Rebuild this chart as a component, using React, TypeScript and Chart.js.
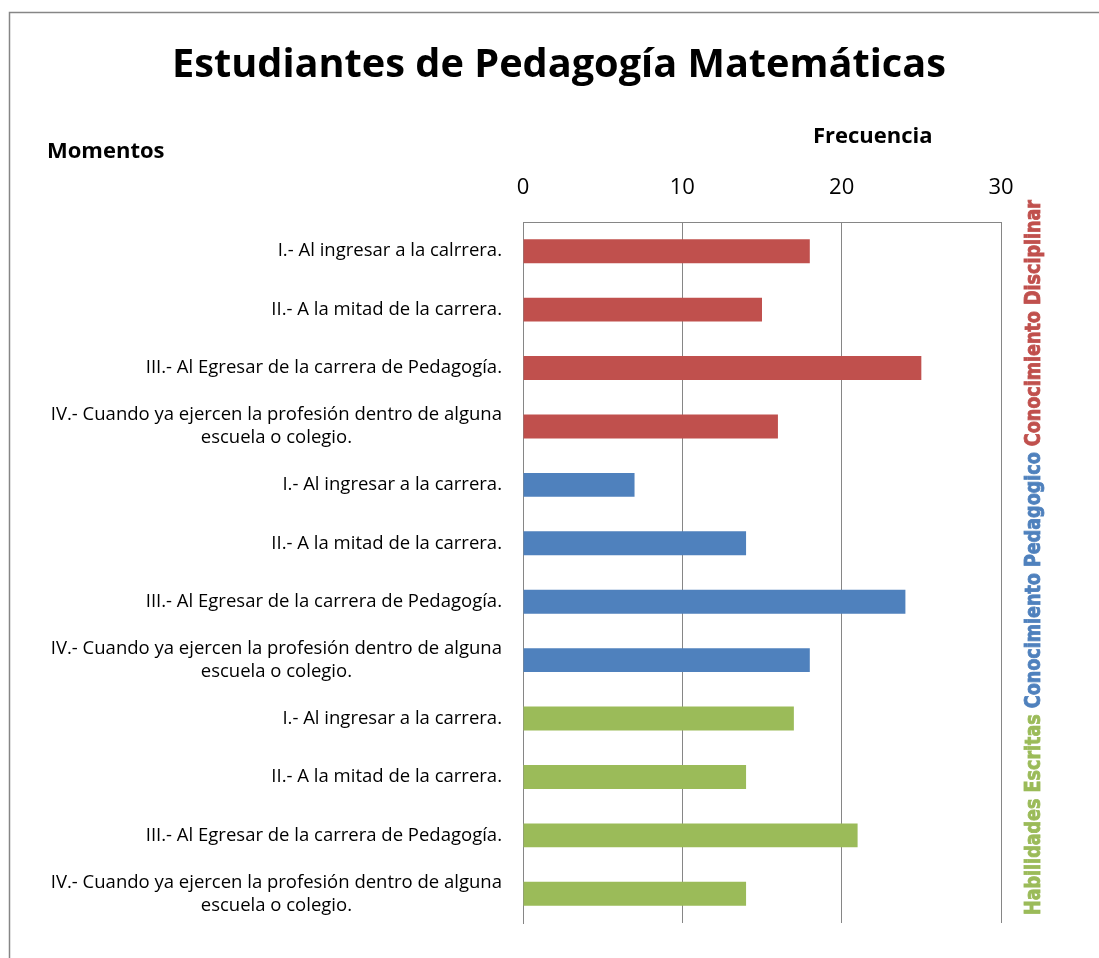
import React, { useEffect, useRef } from 'react';
import { Chart, registerables } from 'chart.js';

Chart.register(...registerables);

const categories: string[][] = [
  ['I.- Al ingresar a la calrrera.'],
  ['II.- A la mitad de la carrera.'],
  ['III.- Al Egresar de la carrera de Pedagogía.'],
  ['IV.- Cuando ya ejercen la profesión dentro de alguna', 'escuela o colegio.'],
  ['I.- Al ingresar a la carrera.'],
  ['II.- A la mitad de la carrera.'],
  ['III.- Al Egresar de la carrera de Pedagogía.'],
  ['IV.- Cuando ya ejercen la profesión dentro de alguna', 'escuela o colegio.'],
  ['I.- Al ingresar a la carrera.'],
  ['II.- A la mitad de la carrera.'],
  ['III.- Al Egresar de la carrera de Pedagogía.'],
  ['IV.- Cuando ya ejercen la profesión dentro de alguna', 'escuela o colegio.'],
];
const values = [18, 15, 25, 16, 7, 14, 24, 18, 17, 14, 21, 14];
const groupOf = [0, 0, 0, 0, 1, 1, 1, 1, 2, 2, 2, 2];
const groupNames = ['Conocimiento Disciplinar', 'Conocimiento Pedagogico', 'Habilidades Escritas'];
const groupColors = ['#C0504D', '#4F81BD', '#9BBB59'];
const xMin = 0;
const xMax = 30;
const xStep = 10;
const title = 'Estudiantes de Pedagogía Matemáticas';
const yTitle = 'Momentos';
const xTitle = 'Frecuencia';

const FONT = '"Open Sans", "Noto Sans", sans-serif';

const decorPlugin = {
  id: 'decor',
  afterDraw(chart: any) {
    const ctx: CanvasRenderingContext2D = chart.ctx;
    const area = chart.chartArea;
    const yScale = chart.scales.y;
    ctx.save();
    // outer border
    ctx.strokeStyle = '#868686';
    ctx.lineWidth = 1.5;
    ctx.beginPath();
    ctx.moveTo(9.5, chart.height);
    ctx.lineTo(9.5, 12.5);
    ctx.lineTo(chart.width, 12.5);
    ctx.stroke();

    // title
    ctx.fillStyle = '#000';
    ctx.textBaseline = 'middle';
    ctx.textAlign = 'center';
    ctx.font = `bold 40px ${FONT}`;
    const tw = ctx.measureText(title).width;
    const size = 40 * 774 / tw;
    ctx.font = `bold ${size}px ${FONT}`;
    ctx.fillText(title, 559, 66);

    // axis titles
    ctx.font = `bold 22px ${FONT}`;
    ctx.textAlign = 'left';
    ctx.fillText(yTitle, 47, 152);
    ctx.fillText(xTitle, 813, 137);

    // category labels
    ctx.font = `18.5px ${FONT}`;
    const lh = 23;
    categories.forEach((lines, i) => {
      const yc = yScale.getPixelForTick(i);
      const widths = lines.map((l) => ctx.measureText(l).width);
      const widest = Math.max(...widths);
      const cx = 502 - widest / 2;
      ctx.textAlign = 'center';
      lines.forEach((l, k) => {
        const y = yc + (k - (lines.length - 1) / 2) * lh;
        ctx.fillText(l, cx, y);
      });
    });

    // rotated group labels
    ctx.font = `bold 21px "DejaVu Sans Condensed", "DejaVu Sans", sans-serif`;
    const order = [2, 1, 0];
    const gap = 6;
    const natural = order.map((g) => ctx.measureText(groupNames[g]).width);
    const totalTarget = 715 - gap * 2;
    const sc = totalTarget / natural.reduce((a, b) => a + b, 0);
    let pos = area.bottom - 8;
    ctx.textAlign = 'left';
    order.forEach((g, k) => {
      ctx.save();
      ctx.translate(1035, pos);
      ctx.rotate(-Math.PI / 2);
      ctx.scale(sc, 1);
      ctx.fillStyle = groupColors[g];
      ctx.strokeStyle = groupColors[g];
      ctx.lineWidth = 0.8;
      ctx.fillText(groupNames[g], 0, 0);
      ctx.strokeText(groupNames[g], 0, 0);
      ctx.restore();
      pos -= natural[k] * sc + gap;
    });
    ctx.restore();
  },
};

export default function App() {
  const ref = useRef<HTMLCanvasElement>(null);
  useEffect(() => {
    if (!ref.current) return;
    const chart = new Chart(ref.current, {
      type: 'bar',
      data: {
        labels: categories.map((c) => c.join(' ')),
        datasets: [
          {
            data: values,
            backgroundColor: values.map((_, i) => groupColors[groupOf[i]]),
            barPercentage: 0.41,
            categoryPercentage: 1,
          },
        ],
      },
      options: {
        indexAxis: 'y',
        animation: false,
        responsive: false,
        events: [],
        layout: { padding: { left: 523, right: 98, top: 172, bottom: 35 } },
        plugins: { legend: { display: false }, tooltip: { enabled: false }, title: { display: false } },
        scales: {
          x: {
            position: 'top',
            min: xMin,
            max: xMax,
            ticks: { stepSize: xStep, padding: 21, color: '#000', font: { family: FONT, size: 22 } },
            grid: { color: '#868686', lineWidth: 1, drawTicks: false },
            border: { display: true, color: '#868686', width: 1 },
            afterFit: (s: any) => { s.height = 50; },
          },
          y: {
            ticks: { display: false },
            grid: { display: false, drawTicks: false },
            border: { display: true, color: '#868686', width: 1 },
            afterFit: (s: any) => { s.width = 0; },
          },
        },
      },
      plugins: [decorPlugin],
    } as any);
    return () => chart.destroy();
  }, []);
  return (
    <div style={{ position: 'absolute', left: 0, top: 0 }}>
      <canvas ref={ref} width={1099} height={958} />
    </div>
  );
}
